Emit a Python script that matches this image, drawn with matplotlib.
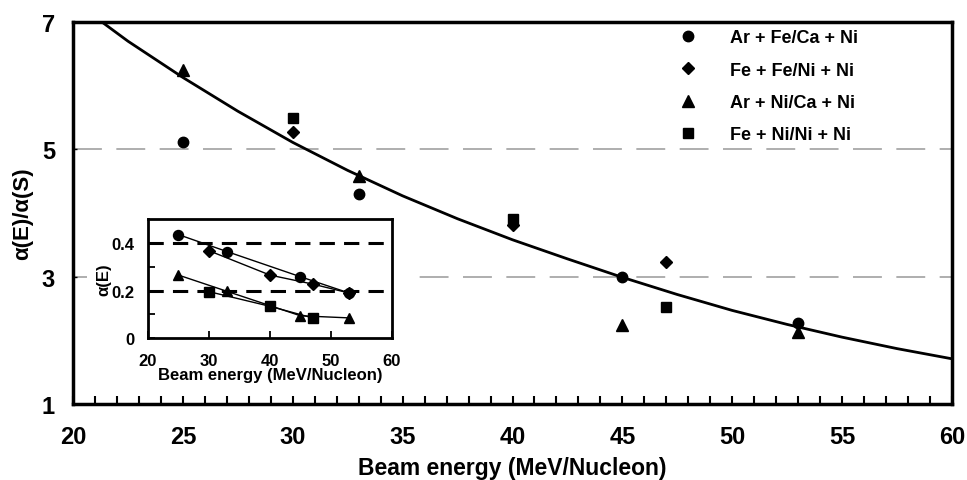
import numpy as np
import matplotlib
matplotlib.use('Agg')
from matplotlib import pyplot as plt
from matplotlib.patches import Rectangle

plt.rcParams['font.family'] = ['Liberation Sans', 'DejaVu Sans']
plt.rcParams['font.weight'] = 'bold'

# main panel: alpha(E)/alpha(S) vs beam energy
series_labels = ['Ar + Fe/Ca + Ni', 'Fe + Fe/Ni + Ni', 'Ar + Ni/Ca + Ni', 'Fe + Ni/Ni + Ni']
series_markers = ['o', 'D', '^', 's']

arfe_E = [25, 33, 45, 53]
arfe_ratio = [5.11, 4.30, 3.00, 2.27]
fefe_E = [30, 40, 47]
fefe_ratio = [5.27, 3.81, 3.23]
arni_E = [25, 33, 45, 53]
arni_ratio = [6.25, 4.58, 2.24, 2.13]
feni_E = [30, 40, 47]
feni_ratio = [5.49, 3.90, 2.52]

# fitted curve
curve_E = [21.4, 22.5, 25, 27.5, 30, 32.5, 35, 37.5, 40, 42.5, 45, 47.5, 50, 52.5, 55, 57.5, 60]
curve_ratio = [6.98, 6.70, 6.13, 5.60, 5.11, 4.67, 4.27, 3.91, 3.58, 3.28, 2.99, 2.72, 2.47, 2.25, 2.05, 1.87, 1.71]

# inset: alpha(E)
in_arfe_E = [25, 33, 45, 53]
in_arfe = [0.437, 0.365, 0.259, 0.190]
in_fefe_E = [30, 40, 47, 53]
in_fefe = [0.369, 0.266, 0.228, 0.190]
in_arni_E = [25, 33, 45, 53]
in_arni = [0.266, 0.197, 0.094, 0.085]
in_feni_E = [30, 40, 47]
in_feni = [0.196, 0.134, 0.085]

main_sets = [(arfe_E, arfe_ratio), (fefe_E, fefe_ratio), (arni_E, arni_ratio), (feni_E, feni_ratio)]
inset_sets = [(in_arfe_E, in_arfe), (in_fefe_E, in_fefe), (in_arni_E, in_arni), (in_feni_E, in_feni)]
msizes = [7.5, 6, 8, 7]


def main():
    fig = plt.figure(figsize=(9.67, 4.81), dpi=100)
    ax = fig.add_axes([0.0755, 0.158, 0.909, 0.794])

    for y in [3, 5]:
        ax.axhline(y, color='#a8a8a8', lw=1.3, dashes=(16, 8), zorder=1)
    # blank area behind the inset
    ax.add_patch(Rectangle((0.09, 0.175), 0.34, 0.39, transform=fig.transFigure,
                           facecolor='white', edgecolor='none', zorder=2))
    ax.plot(curve_E, curve_ratio, color='black', lw=2, zorder=3)
    for (xs, ys), m, lab, ms in zip(main_sets, series_markers, series_labels, msizes):
        ax.plot(xs, ys, ls='none', marker=m, color='black', ms=ms, label=lab, zorder=4)

    ax.set_xlim(20, 60)
    ax.set_ylim(1, 7)
    ax.set_xticks(np.arange(20, 61, 5))
    ax.set_xticks(np.arange(20, 61, 1), minor=True)
    ax.set_yticks([1, 3, 5, 7])
    ax.tick_params(axis='x', which='both', direction='in', length=6, width=1.5, pad=15, labelsize=17)
    ax.tick_params(axis='y', direction='in', length=3, width=1, pad=13, labelsize=17)
    for s in ax.spines.values():
        s.set_linewidth(2.5)
    ax.set_xlabel('Beam energy (MeV/Nucleon)', fontsize=16.5, fontweight='bold', labelpad=6)
    ax.set_ylabel('α(E)/α(S)', fontsize=16, fontweight='bold', labelpad=6)

    ax.legend(loc='upper left', bbox_to_anchor=(0.704, 0.937), bbox_transform=fig.transFigure,
              frameon=False, fontsize=13, handlelength=0.8, handletextpad=1.9,
              labelspacing=0.85, borderpad=0, borderaxespad=0)

    # inset
    axi = fig.add_axes([0.153, 0.2952, 0.2523, 0.2474])
    axi.set_zorder(5)
    for y in [0.2, 0.4]:
        axi.axhline(y, color='black', lw=2.2, dashes=(5, 3), zorder=1)
    for i, ((xs, ys), m, ms) in enumerate(zip(inset_sets, series_markers, msizes)):
        axi.plot(xs, ys, color='black', lw=1, marker=m, ms=ms - 0.3, zorder=4 if i == 0 else 3)
    axi.set_xlim(20, 60)
    axi.set_ylim(0, 0.503)
    axi.set_xticks([20, 30, 40, 50, 60])
    axi.set_yticks([0, 0.2, 0.4])
    axi.set_yticks([0.1, 0.3], minor=True)
    axi.set_yticklabels(['0', '0.2', '0.4'])
    axi.tick_params(axis='x', direction='in', length=5, width=1.3, pad=11, labelsize=12)
    axi.tick_params(axis='y', which='both', direction='in', length=5, width=1.3, pad=10, labelsize=12)
    for s in axi.spines.values():
        s.set_linewidth(2)
    axi.set_xlabel('Beam energy (MeV/Nucleon)', fontsize=12, fontweight='bold', labelpad=-1)
    axi.set_ylabel('α(E)', fontsize=12, fontweight='bold', labelpad=0)

    fig.savefig('out.png', dpi=100)


if __name__ == '__main__':
    main()
